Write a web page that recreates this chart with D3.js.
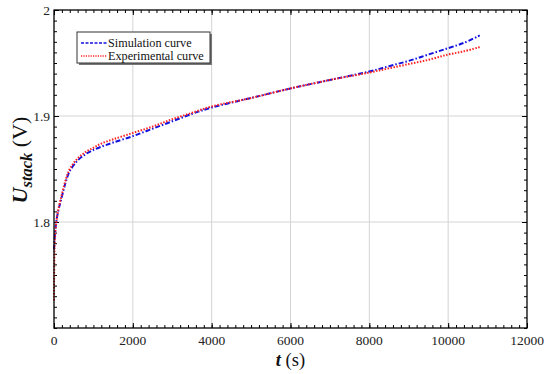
<!DOCTYPE html>
<html><head><meta charset="utf-8">
<script src="https://cdn.jsdelivr.net/npm/d3@7"></script>
<style>body{margin:0;background:#fff}svg{display:block}svg text{font-family:"Times New Roman","Liberation Serif",Tinos,"Nimbus Roman",Times,serif}</style>
</head><body>
<svg id="c" width="550" height="374"></svg>
<script>
const simT = [0, 20, 50, 100, 200, 300, 400, 600, 800, 1000, 1200, 1500, 2000, 2500, 3000, 3500, 4000, 5000, 6000, 7000, 8000, 8500, 9000, 9500, 10000, 10400, 10800];
const simU = [1.774, 1.786, 1.798, 1.809, 1.824, 1.838, 1.848, 1.858, 1.864, 1.868, 1.871, 1.875, 1.881, 1.888, 1.895, 1.902, 1.908, 1.917, 1.926, 1.934, 1.942, 1.947, 1.952, 1.958, 1.964, 1.969, 1.976];
const expT = [0, 3, 8, 15, 30, 60, 100, 200, 300, 400, 600, 800, 1000, 1200, 1500, 2000, 2500, 3000, 3500, 4000, 5000, 6000, 7000, 8000, 8500, 9000, 9500, 10000, 10400, 10800];
const expU = [1.726, 1.745, 1.765, 1.778, 1.789, 1.800, 1.810, 1.826, 1.840, 1.850, 1.860, 1.866, 1.870, 1.874, 1.878, 1.884, 1.890, 1.897, 1.903, 1.909, 1.917, 1.926, 1.934, 1.941, 1.945, 1.949, 1.953, 1.958, 1.961, 1.965];
const xTicks = [0, 2000, 4000, 6000, 8000, 10000, 12000];
const yTicks = [1.8, 1.9, 2];
const seriesNames = ["Simulation curve", "Experimental curve"];
const seriesColors = ["#1010e0", "#ff2020"];

const svg = d3.select("#c");
const L = 54, R = 527, T = 10, B = 328;
const x = d3.scaleLinear().domain([0, 12000]).range([L, R]);
const y = d3.scaleLinear().domain([1.7, 2.0]).range([B, T]);

// grid
const g = svg.append("g");
g.selectAll(".gx").data(xTicks.slice(1, -1)).join("line")
  .attr("x1", d => x(d)).attr("x2", d => x(d)).attr("y1", T).attr("y2", B)
  .attr("stroke", "#d4d4d4").attr("stroke-width", 1);
g.selectAll(".gy").data(yTicks.filter(v => v < 2)).join("line")
  .attr("y1", d => y(d)).attr("y2", d => y(d)).attr("x1", L).attr("x2", R)
  .attr("stroke", "#d4d4d4").attr("stroke-width", 1);

// axes with inward ticks
const xMinor = d3.range(0, 12001, 200);
const yMinor = d3.range(170, 201, 1).map(v => v / 100);
function addAxis(axisGen, tr) {
  const a = svg.append("g").attr("transform", tr).call(axisGen);
  a.select(".domain").remove();
  a.selectAll("line").attr("stroke", "#000");
  return a;
}
addAxis(d3.axisBottom(x).tickValues(xMinor).tickSize(-3).tickFormat(""), `translate(0,${B})`);
addAxis(d3.axisTop(x).tickValues(xMinor).tickSize(-3).tickFormat(""), `translate(0,${T})`);
addAxis(d3.axisLeft(y).tickValues(yMinor).tickSize(-3).tickFormat(""), `translate(${L},0)`);
addAxis(d3.axisRight(y).tickValues(yMinor).tickSize(-3).tickFormat(""), `translate(${R},0)`);
addAxis(d3.axisBottom(x).tickValues(xTicks).tickSize(-5).tickFormat(""), `translate(0,${B})`);
addAxis(d3.axisTop(x).tickValues(xTicks).tickSize(-5).tickFormat(""), `translate(0,${T})`);
addAxis(d3.axisLeft(y).tickValues(yTicks).tickSize(-5).tickFormat(""), `translate(${L},0)`);
addAxis(d3.axisRight(y).tickValues(yTicks).tickSize(-5).tickFormat(""), `translate(${R},0)`);

// tick labels
svg.selectAll(".xl").data(xTicks).join("text")
  .attr("x", d => x(d)).attr("y", B + 17).attr("text-anchor", "middle")
  .attr("font-size", 13.5).attr("fill", "#222").text(d => d);
svg.selectAll(".yl").data(yTicks).join("text")
  .attr("x", L - 4).attr("y", d => y(d) + 5).attr("text-anchor", "end")
  .attr("font-size", 13.5).attr("fill", "#222").text(d => d3.format("")(d));

// curves
const line = d3.line().x(d => x(d[0])).y(d => y(d[1])).curve(d3.curveCatmullRom.alpha(0.5));
const sim = simT.map((t, i) => [t, simU[i]]);
const exp = expT.map((t, i) => [t, expU[i]]);
svg.append("path").datum(sim).attr("d", line).attr("fill", "none")
  .attr("stroke", seriesColors[0]).attr("stroke-width", 2).attr("stroke-dasharray", "5,2,1.5,2");
svg.append("path").datum(exp).attr("d", line).attr("fill", "none")
  .attr("stroke", seriesColors[1]).attr("stroke-width", 2).attr("stroke-dasharray", "1.5,1.5");

// frame
svg.append("rect").attr("x", L).attr("y", T).attr("width", R - L).attr("height", B - T)
  .attr("fill", "none").attr("stroke", "#000").attr("stroke-width", 1.3);

// legend
const lg = svg.append("g");
lg.append("rect").attr("x", 79).attr("y", 34).attr("width", 133).attr("height", 31).attr("fill", "#777");
lg.append("rect").attr("x", 77).attr("y", 32).attr("width", 133).attr("height", 31)
  .attr("fill", "#fff").attr("stroke", "#333").attr("stroke-width", 1);
seriesNames.forEach((n, i) => {
  const yy = 43 + i * 13;
  lg.append("line").attr("x1", 81).attr("x2", 107).attr("y1", yy).attr("y2", yy)
    .attr("stroke", seriesColors[i]).attr("stroke-width", 1.6)
    .attr("stroke-dasharray", i === 0 ? "3,1.5" : "1.2,1.2");
  lg.append("text").attr("x", 108).attr("y", yy + 4).attr("font-size", 12.2).attr("fill", "#111").text(n);
});

// axis titles
const xt = svg.append("text").attr("x", x(6000)).attr("y", 366).attr("text-anchor", "middle")
  .attr("font-size", 18.5).attr("fill", "#111");
xt.append("tspan").attr("font-weight", "bold").attr("font-style", "italic").text("t");
xt.append("tspan").text(" (s)");

const yt = svg.append("text").attr("transform", `translate(27,160) rotate(-90)`)
  .attr("text-anchor", "middle").attr("font-size", 22).attr("fill", "#111");
yt.append("tspan").attr("font-weight", "bold").attr("font-style", "italic").text("U");
yt.append("tspan").attr("font-weight", "bold").attr("font-style", "italic").attr("font-size", 16.5).attr("dy", 5).text("stack");
yt.append("tspan").attr("dy", -5).text(" (V)");
</script>
</body></html>
